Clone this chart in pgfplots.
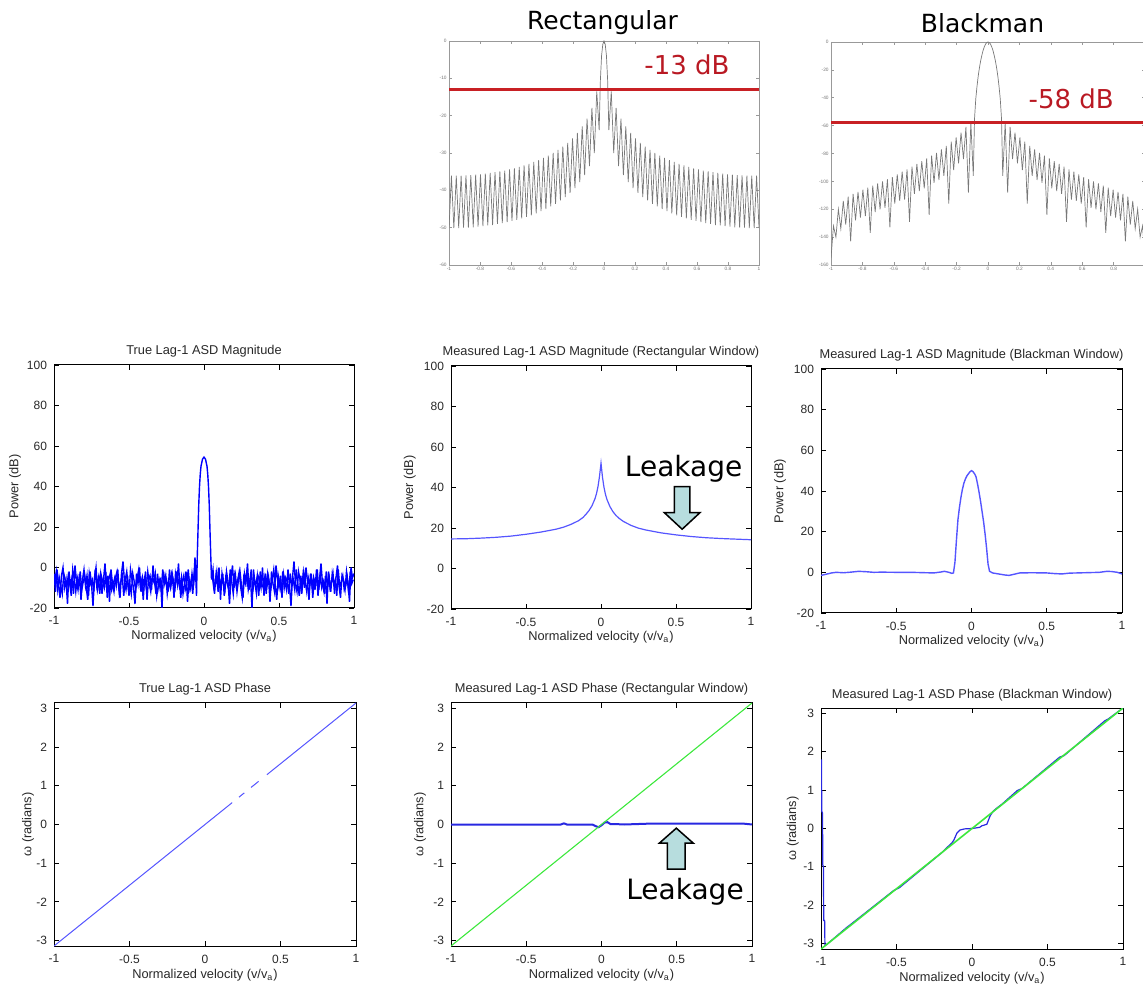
\documentclass[border=0pt]{standalone}
\usepackage{fontspec}
\setmainfont{Liberation Sans}
\newfontfamily\dejavu{DejaVu Sans}
\usepackage{pgfplots}
\pgfplotsset{compat=1.18}

\definecolor{txt}{RGB}{40,40,40}
\definecolor{mblue}{RGB}{0,0,255}
\definecolor{lblue}{RGB}{85,85,255}
\definecolor{dblue}{RGB}{40,40,225}
\definecolor{mgreen}{RGB}{60,232,60}
\definecolor{redline}{RGB}{200,32,36}
\definecolor{redtext}{RGB}{185,25,35}
\definecolor{arrowfill}{RGB}{183,221,222}
\definecolor{specgray}{RGB}{120,120,120}

\pgfplotsset{
  every axis title shift=0pt,
  mat/.style={
    scale only axis, anchor=south west,
    tick align=inside, tick pos=both,
    major tick length=2.3pt,
    axis line style={line width=0.5pt},
    tick style={black, line width=0.4pt},
    xmin=-1, xmax=1,
    xtick={-1,-0.5,0,0.5,1}, xticklabels={-1,-0.5,0,0.5,1},
    ticklabel style={font=\fontsize{6}{7}\selectfont, text=txt},
    xticklabel style={yshift=-0.8pt},
    title style={font=\fontsize{6.4}{7.5}\selectfont, text=txt, at={(axis description cs:0.5,1)}, anchor=base, yshift=5pt},
    xlabel={Normalized velocity (v/v\textsubscript{a})},
    xlabel style={font=\fontsize{6.4}{7.5}\selectfont, text=txt, at={(axis description cs:0.5,0)}, anchor=base, yshift=-16pt},
    ylabel style={font=\fontsize{6.4}{7.5}\selectfont, text=txt, anchor=center},
  },
  mag/.style={ymin=-20, ymax=100, ytick={-20,0,20,40,60,80,100}, yticklabels={-20,0,20,40,60,80,100}, ylabel={Power (dB)}},
  phase/.style={ymin=-3.1416, ymax=3.1416, ytick={-3,-2,-1,0,1,2,3}, yticklabels={-3,-2,-1,0,1,2,3}, ylabel={ω (radians)}},
  topax/.style={
    scale only axis, anchor=south west, tick align=inside, tick pos=both,
    major tick length=1.6pt,
    axis line style={draw=black!40, line width=0.35pt},
    tick style={draw=black!40, line width=0.3pt},
    xmin=-1, xmax=1,
    xtick={-1,-0.8,-0.6,-0.4,-0.2,0,0.2,0.4,0.6,0.8,1},
    ticklabel style={font=\fontsize{2.4}{2.8}\selectfont, text=black!55, inner sep=1pt},
    title style={font=\dejavu\fontsize{12.5}{14}\selectfont, text=black, at={(axis description cs:0.5,1)}, anchor=base},
  },
}

\begin{document}
\begin{tikzpicture}
\useasboundingbox (0pt,0pt) rectangle (571.5pt,495pt);

% ---------------- Rectangular window spectrum ----------------
\begin{axis}[topax, at={(224.5pt,362.5pt)}, width=155pt, height=112pt,
  xticklabels={-1,-0.8,-0.6,-0.4,-0.2,0,0.2,0.4,0.6,0.8,1},
  ymin=-60, ymax=0, ytick={-60,-50,-40,-30,-20,-10,0}, yticklabels={-60,-50,-40,-30,-20,-10,0},
  title={Rectangular}, title style={yshift=5.5pt, xshift=-0.75pt}]
\addplot[specgray, line width=0.35pt] coordinates {
(-1,-50.1) (-0.984375,-36.1) (-0.96875,-50.1) (-0.953125,-36.1) (-0.9375,-50.1) (-0.921875,-36.1) (-0.90625,-50.0) (-0.890625,-36.0) (-0.875,-50.0) (-0.859375,-35.9) (-0.84375,-49.9) (-0.828125,-35.8) (-0.8125,-49.7) (-0.796875,-35.7) (-0.78125,-49.6) (-0.765625,-35.5) (-0.75,-49.4) (-0.734375,-35.3) (-0.71875,-49.3) (-0.703125,-35.1) (-0.6875,-49.0) (-0.671875,-34.9) (-0.65625,-48.8) (-0.640625,-34.7) (-0.625,-48.5) (-0.609375,-34.4) (-0.59375,-48.2) (-0.578125,-34.1) (-0.5625,-47.9) (-0.546875,-33.7) (-0.53125,-47.5) (-0.515625,-33.3) (-0.5,-47.1) (-0.484375,-32.9) (-0.46875,-46.7) (-0.453125,-32.4) (-0.4375,-46.2) (-0.421875,-31.9) (-0.40625,-45.6) (-0.390625,-31.3) (-0.375,-45.0) (-0.359375,-30.7) (-0.34375,-44.3) (-0.328125,-30.0) (-0.3125,-43.6) (-0.296875,-29.2) (-0.28125,-42.7) (-0.265625,-28.3) (-0.25,-41.8) (-0.234375,-27.3) (-0.21875,-40.7) (-0.203125,-26.1) (-0.1875,-39.4) (-0.171875,-24.6) (-0.15625,-37.8) (-0.140625,-22.9) (-0.125,-35.9) (-0.109375,-20.8) (-0.09375,-33.5) (-0.078125,-17.9) (-0.0625,-30.0) (-0.046875,-13.5) (-0.03125,-23.9) (-0.0234,-10.5) (-0.015625,-3.9) (-0.0078,-0.9) (0,0)
(0.0078,-0.9) (0.015625,-3.9) (0.0234,-10.5) (0.03125,-23.9) (0.046875,-13.5) (0.0625,-30.0) (0.078125,-17.9) (0.09375,-33.5) (0.109375,-20.8) (0.125,-35.9) (0.140625,-22.9) (0.15625,-37.8) (0.171875,-24.6) (0.1875,-39.4) (0.203125,-26.1) (0.21875,-40.7) (0.234375,-27.3) (0.25,-41.8) (0.265625,-28.3) (0.28125,-42.7) (0.296875,-29.2) (0.3125,-43.6) (0.328125,-30.0) (0.34375,-44.3) (0.359375,-30.7) (0.375,-45.0) (0.390625,-31.3) (0.40625,-45.6) (0.421875,-31.9) (0.4375,-46.2) (0.453125,-32.4) (0.46875,-46.7) (0.484375,-32.9) (0.5,-47.1) (0.515625,-33.3) (0.53125,-47.5) (0.546875,-33.7) (0.5625,-47.9) (0.578125,-34.1) (0.59375,-48.2) (0.609375,-34.4) (0.625,-48.5) (0.640625,-34.7) (0.65625,-48.8) (0.671875,-34.9) (0.6875,-49.0) (0.703125,-35.1) (0.71875,-49.3) (0.734375,-35.3) (0.75,-49.4) (0.765625,-35.5) (0.78125,-49.6) (0.796875,-35.7) (0.8125,-49.7) (0.828125,-35.8) (0.84375,-49.9) (0.859375,-35.9) (0.875,-50.0) (0.890625,-36.0) (0.90625,-50.0) (0.921875,-36.1) (0.9375,-50.1) (0.953125,-36.1) (0.96875,-50.1) (0.984375,-36.1) (1,-50.1)
};
\addplot[redline, line width=1.5pt] coordinates {(-1,-13) (1,-13)};
\node[anchor=base, text=redtext, font=\dejavu\fontsize{13}{15}\selectfont] at (axis cs:0.535,-9.1) {-13 dB};
\end{axis}

% ---------------- Blackman window spectrum ----------------
\begin{axis}[topax, at={(415.5pt,362.5pt)}, width=157pt, height=111.5pt,
  xticklabels={-1,-0.8,-0.6,-0.4,-0.2,0,0.2,0.4,0.6,0.8,{}},
  ymin=-160, ymax=0, ytick={-160,-140,-120,-100,-80,-60,-40,-20,0}, yticklabels={-160,-140,-120,-100,-80,-60,-40,-20,0},
  title={Blackman}, title style={yshift=4.5pt, xshift=-2.75pt}]
\addplot[specgray, line width=0.35pt] coordinates {
(-1,-155) (-0.984375,-132) (-0.96875,-140) (-0.953125,-120) (-0.9375,-134) (-0.921875,-114) (-0.90625,-131) (-0.890625,-111) (-0.875,-143) (-0.859375,-109) (-0.84375,-128) (-0.828125,-107.5) (-0.8125,-126) (-0.796875,-106) (-0.78125,-125) (-0.765625,-104.5) (-0.75,-137) (-0.734375,-103) (-0.71875,-122) (-0.703125,-101.5) (-0.6875,-120) (-0.671875,-100) (-0.65625,-119) (-0.640625,-98.5) (-0.625,-133) (-0.609375,-97) (-0.59375,-116) (-0.578125,-95) (-0.5625,-114) (-0.546875,-93) (-0.53125,-113) (-0.515625,-91.5) (-0.5,-129) (-0.484375,-89.5) (-0.46875,-109) (-0.453125,-87.5) (-0.4375,-107) (-0.421875,-85.5) (-0.40625,-105) (-0.390625,-83.5) (-0.375,-124) (-0.359375,-81.5) (-0.34375,-101) (-0.328125,-79.5) (-0.3125,-99) (-0.296875,-77) (-0.28125,-96) (-0.265625,-74.5) (-0.25,-116) (-0.234375,-71.5) (-0.21875,-92) (-0.203125,-68.5) (-0.1875,-87) (-0.171875,-65) (-0.15625,-84) (-0.140625,-61) (-0.125,-108) (-0.109375,-58) (-0.09375,-96)
(-0.0859,-55) (-0.0781,-41) (-0.0703,-32) (-0.0625,-24.5) (-0.0547,-18.5) (-0.0469,-13.5) (-0.0391,-9.5) (-0.0313,-6) (-0.0234,-3.4) (-0.0156,-1.5) (-0.0078,-0.4) (0,0)
(0.0078,-0.4) (0.0156,-1.5) (0.0234,-3.4) (0.0313,-6) (0.0391,-9.5) (0.0469,-13.5) (0.0547,-18.5) (0.0625,-24.5) (0.0703,-32) (0.0781,-41) (0.0859,-55)
(0.09375,-96) (0.109375,-58) (0.125,-108) (0.140625,-61) (0.15625,-84) (0.171875,-65) (0.1875,-87) (0.203125,-68.5) (0.21875,-92) (0.234375,-71.5) (0.25,-116) (0.265625,-74.5) (0.28125,-96) (0.296875,-77) (0.3125,-99) (0.328125,-79.5) (0.34375,-101) (0.359375,-81.5) (0.375,-124) (0.390625,-83.5) (0.40625,-105) (0.421875,-85.5) (0.4375,-107) (0.453125,-87.5) (0.46875,-109) (0.484375,-89.5) (0.5,-129) (0.515625,-91.5) (0.53125,-113) (0.546875,-93) (0.5625,-114) (0.578125,-95) (0.59375,-116) (0.609375,-97) (0.625,-133) (0.640625,-98.5) (0.65625,-119) (0.671875,-100) (0.6875,-120) (0.703125,-101.5) (0.71875,-122) (0.734375,-103) (0.75,-137) (0.765625,-104.5) (0.78125,-125) (0.796875,-106) (0.8125,-126) (0.828125,-107.5) (0.84375,-128) (0.859375,-109) (0.875,-143) (0.890625,-111) (0.90625,-131) (0.921875,-114) (0.9375,-134) (0.953125,-120) (0.96875,-140) (0.984375,-132) (1,-155)
};
\addplot[redline, line width=1.5pt] coordinates {(-1,-58) (1,-58)};
\node[anchor=base, text=redtext, font=\dejavu\fontsize{13}{15}\selectfont] at (axis cs:0.53,-47.5) {-58 dB};
\end{axis}

% ---------------- Middle left ----------------
\begin{axis}[mat, mag, at={(27pt,191pt)}, width=150pt, height=121.5pt,
  title={True Lag-1 ASD Magnitude}, ylabel style={at={(axis description cs:-0.13,0.5)}}]
\addplot[mblue, line width=0.7pt] coordinates {
(-0.995,-7) (-0.985,-2) (-0.975,-11) (-0.965,-5) (-0.955,-9) (-0.945,-13) (-0.935,-3) (-0.925,-6) (-0.915,-10) (-0.905,-4)
(-0.895,-8) (-0.885,-14) (-0.875,-1) (-0.865,-6) (-0.855,-12) (-0.845,-5) (-0.835,-9) (-0.825,-2) (-0.815,-11) (-0.805,-7)
(-0.795,-4) (-0.785,-10) (-0.775,-16) (-0.765,-3) (-0.755,-8) (-0.745,-6) (-0.735,-12) (-0.725,-1) (-0.715,-9) (-0.705,-5)
(-0.695,-13) (-0.685,-4) (-0.675,-7) (-0.665,-10) (-0.655,-2) (-0.645,-15) (-0.635,-6) (-0.625,-3) (-0.615,-11) (-0.605,-8)
(-0.595,-5) (-0.585,-9) (-0.575,-1) (-0.565,-12) (-0.555,-7) (-0.545,-4) (-0.535,-14) (-0.525,-6) (-0.515,-2) (-0.505,-10)
(-0.495,-8) (-0.485,-13) (-0.475,-3) (-0.465,-7) (-0.455,-11) (-0.445,-5) (-0.435,-1) (-0.425,-9) (-0.415,-6) (-0.405,-16)
(-0.395,-4) (-0.385,-10) (-0.375,-2) (-0.365,-8) (-0.355,-12) (-0.345,-5) (-0.335,-7) (-0.325,-3) (-0.315,-14) (-0.305,-9)
(-0.295,-6) (-0.285,-11) (-0.275,-1) (-0.265,-8) (-0.255,-4) (-0.245,-13) (-0.235,-7) (-0.225,-10) (-0.215,-3) (-0.205,-6)
(-0.195,-12) (-0.185,-2) (-0.175,-9) (-0.165,-5) (-0.155,-15) (-0.145,-7) (-0.135,-4) (-0.125,-11) (-0.115,-8) (-0.105,-1)
(-0.095,-10) (-0.085,-6) (-0.075,-13) (-0.065,-3) (-0.055,-7)
};
\addplot[mblue, line width=0.7pt] coordinates {
(0.055,-4) (0.065,-10) (0.075,-7) (0.085,-2) (0.095,-12) (0.105,-6) (0.115,-9) (0.125,-3) (0.135,-14) (0.145,-5)
(0.155,-8) (0.165,-11) (0.175,-1) (0.185,-7) (0.195,-13) (0.205,-4) (0.215,-9) (0.225,-6) (0.235,-2) (0.245,-10)
(0.255,-15) (0.265,-5) (0.275,-8) (0.285,-3) (0.295,-11) (0.305,-7) (0.315,-1) (0.325,-12) (0.335,-6) (0.345,-9)
(0.355,-4) (0.365,-14) (0.375,-2) (0.385,-8) (0.395,-10) (0.405,-5) (0.415,-13) (0.425,-3) (0.435,-7) (0.445,-11)
(0.455,-6) (0.465,-1) (0.475,-9) (0.485,-16) (0.495,-4) (0.505,-8) (0.515,-12) (0.525,-2) (0.535,-10) (0.545,-5)
(0.555,-7) (0.565,-13) (0.575,-3) (0.585,-9) (0.595,-6) (0.605,-11) (0.615,-1) (0.625,-8) (0.635,-14) (0.645,-4)
(0.655,-10) (0.665,-2) (0.675,-7) (0.685,-12) (0.695,-5) (0.705,-9) (0.715,-3) (0.725,-15) (0.735,-6) (0.745,-8)
(0.755,-1) (0.765,-11) (0.775,-4) (0.785,-10) (0.795,-7) (0.805,-13) (0.815,-2) (0.825,-9) (0.835,-5) (0.845,-12)
(0.855,-3) (0.865,-8) (0.875,-6) (0.885,-14) (0.895,-1) (0.905,-10) (0.915,-7) (0.925,-4) (0.935,-11) (0.945,-9)
(0.955,-5) (0.965,-13) (0.975,-2) (0.985,-8) (0.995,-6)
};
\addplot[mblue, line width=0.7pt] coordinates {
(-1.00,-3) (-0.99,-12) (-0.98,-1) (-0.97,-8) (-0.96,-15) (-0.95,-4) (-0.94,0) (-0.93,-10) (-0.92,-6) (-0.91,-18)
(-0.90,-2) (-0.89,-9) (-0.88,-5) (-0.87,-13) (-0.86,1) (-0.85,-7) (-0.84,-11) (-0.83,-3) (-0.82,-16) (-0.81,-6)
(-0.80,-1) (-0.79,-9) (-0.78,-4) (-0.77,-14) (-0.76,-2) (-0.75,-8) (-0.74,-19) (-0.73,-5) (-0.72,0) (-0.71,-11)
(-0.70,-7) (-0.69,-3) (-0.68,-13) (-0.67,-6) (-0.66,2) (-0.65,-10) (-0.64,-4) (-0.63,-17) (-0.62,-1) (-0.61,-8)
(-0.60,-12) (-0.59,-5) (-0.58,-2) (-0.57,-9) (-0.56,-15) (-0.55,-3) (-0.54,3) (-0.53,-7) (-0.52,-11) (-0.51,-4)
(-0.50,-14) (-0.49,-1) (-0.48,-6) (-0.47,-10) (-0.46,-18) (-0.45,-3) (-0.44,-8) (-0.43,0) (-0.42,-12) (-0.41,-5)
(-0.40,-9) (-0.39,-2) (-0.38,-16) (-0.37,-6) (-0.36,-4) (-0.35,-11) (-0.34,1) (-0.33,-7) (-0.32,-13) (-0.31,-3)
(-0.30,-10) (-0.29,-5) (-0.28,-20) (-0.27,-2) (-0.26,-8) (-0.25,-6) (-0.24,-12) (-0.23,-1) (-0.22,-9) (-0.21,-4)
(-0.20,-15) (-0.19,-3) (-0.18,-7) (-0.17,2) (-0.16,-11) (-0.15,-5) (-0.14,-13) (-0.13,-8) (-0.12,-2) (-0.11,-17)
(-0.10,-6) (-0.09,-10) (-0.08,-3) (-0.07,-9) (-0.06,5) (-0.05,-14)
(-0.045,5) (-0.04,18) (-0.035,31) (-0.03,40) (-0.025,46) (-0.02,50) (-0.01,53.5) (0,54.5) (0.01,53.5) (0.02,50) (0.025,46) (0.03,40) (0.035,31) (0.04,18) (0.045,6)
(0.05,-6) (0.06,-1) (0.07,-13) (0.08,-4) (0.09,-9) (0.10,0) (0.11,-16) (0.12,-3) (0.13,-8) (0.14,-11)
(0.15,-2) (0.16,-7) (0.17,-18) (0.18,-5) (0.19,1) (0.20,-10) (0.21,-4) (0.22,-12) (0.23,-6) (0.24,-2)
(0.25,-9) (0.26,-15) (0.27,-3) (0.28,-7) (0.29,2) (0.30,-11) (0.31,-5) (0.32,-20) (0.33,-1) (0.34,-8)
(0.35,-13) (0.36,-4) (0.37,-6) (0.38,-10) (0.39,0) (0.40,-14) (0.41,-3) (0.42,-9) (0.43,-5) (0.44,-17)
(0.45,-2) (0.46,-8) (0.47,-12) (0.48,1) (0.49,-6) (0.50,-10) (0.51,-4) (0.52,-15) (0.53,-3) (0.54,-7)
(0.55,-11) (0.56,-1) (0.57,-9) (0.58,-19) (0.59,-5) (0.60,3) (0.61,-8) (0.62,-12) (0.63,-2) (0.64,-6)
(0.65,-13) (0.66,-4) (0.67,-10) (0.68,0) (0.69,-7) (0.70,-16) (0.71,-3) (0.72,-9) (0.73,-5) (0.74,-11)
(0.75,-1) (0.76,-14) (0.77,-6) (0.78,2) (0.79,-8) (0.80,-12) (0.81,-4) (0.82,-18) (0.83,-2) (0.84,-10)
(0.85,-7) (0.86,-3) (0.87,-13) (0.88,-5) (0.89,1) (0.90,-9) (0.91,-15) (0.92,-4) (0.93,-6) (0.94,-11)
(0.95,-2) (0.96,-8) (0.97,-17) (0.98,0) (0.99,-5) (1.00,-3)
};
\end{axis}

% ---------------- Middle centre ----------------
\begin{axis}[mat, mag, at={(225.5pt,190.5pt)}, width=150pt, height=121.5pt,
  title={Measured Lag-1 ASD Magnitude (Rectangular Window)}, ylabel style={at={(axis description cs:-0.137,0.5)}}]
\addplot[lblue, line width=0.6pt] coordinates {
(-1,14.6) (-0.9,14.7) (-0.8,15.0) (-0.7,15.4) (-0.6,16.0) (-0.5,16.9) (-0.4,18.0) (-0.3,19.4) (-0.25,20.4) (-0.2,21.8) (-0.15,23.6) (-0.12,25.2) (-0.1,26.8) (-0.08,28.6) (-0.06,31) (-0.04,34.5) (-0.03,37) (-0.02,40.5) (-0.01,45.5) (0,52) (0.01,45) (0.02,40) (0.03,36.5) (0.04,34) (0.06,30.5) (0.08,28) (0.1,26.2) (0.12,24.8) (0.15,23.2) (0.2,21.3) (0.25,19.9) (0.3,19) (0.4,17.6) (0.5,16.6) (0.6,15.8) (0.7,15.2) (0.8,14.8) (0.9,14.5) (1,14.2)
};
\draw[fill=arrowfill, draw=black, line width=0.75pt, line join=miter]
  (axis cs:0.489,40.4) -- (axis cs:0.593,40.4) -- (axis cs:0.593,27.6) -- (axis cs:0.66,27.6)
  -- (axis cs:0.541,19.4) -- (axis cs:0.422,27.6) -- (axis cs:0.489,27.6) -- cycle;
\node[anchor=base, font=\dejavu\fontsize{14}{16}\selectfont] at (axis cs:0.551,45.3) {Leakage};
\end{axis}

% ---------------- Middle right ----------------
\begin{axis}[mat, mag, at={(410.5pt,188.5pt)}, width=150.5pt, height=122pt,
  title={Measured Lag-1 ASD Magnitude (Blackman Window)}, ylabel style={at={(axis description cs:-0.136,0.5)}}]
\addplot[lblue, line width=0.7pt] coordinates {
(-1,-1.5) (-0.97,-1) (-0.93,-0.3) (-0.9,0) (-0.85,-0.2) (-0.8,0.1) (-0.75,0.5) (-0.7,0.3) (-0.65,0) (-0.6,0.1) (-0.5,0) (-0.4,0) (-0.3,-0.2) (-0.25,-0.3) (-0.2,0.2) (-0.18,0.5) (-0.15,0) (-0.13,-0.5)
(-0.12,-0.3) (-0.11,5) (-0.1,16) (-0.09,26) (-0.08,32) (-0.07,37) (-0.06,41) (-0.05,44) (-0.04,46) (-0.03,47.5) (-0.02,48.5) (-0.01,49.5) (0,50) (0.01,49.5) (0.02,48.5) (0.03,47) (0.04,43.5) (0.05,39.5) (0.06,35) (0.07,30) (0.08,25) (0.09,19) (0.1,12) (0.11,4) (0.12,0.5)
(0.14,-0.3) (0.18,-0.8) (0.22,-1.3) (0.25,-1.5) (0.28,-1) (0.32,-0.3) (0.4,-0.2) (0.5,-0.3) (0.55,-0.6) (0.6,-0.8) (0.65,-0.4) (0.7,-0.3) (0.8,-0.1) (0.85,0) (0.9,0.5) (0.93,0.4) (0.97,0) (1,-0.8)
};
\end{axis}

% ---------------- Bottom left ----------------
\begin{axis}[mat, phase, at={(27pt,22pt)}, width=151pt, height=121.5pt,
  title={True Lag-1 ASD Phase}, ylabel style={at={(axis description cs:-0.086,0.5)}}, unbounded coords=jump]
\addplot[lblue, line width=0.5pt] coordinates {
(-1,-3.1416) (-0.5,-1.5708) (0,0) (0.18,0.5655) (0.18,nan) (0.225,0.7069) (0.26,0.8168) (0.26,nan) (0.305,0.9582) (0.355,1.1153) (0.355,nan) (0.41,1.2881) (0.7,2.1991) (1,3.1416)
};
\end{axis}

% ---------------- Bottom centre ----------------
\begin{axis}[mat, phase, at={(225.5pt,22pt)}, width=150.5pt, height=121.5pt,
  title={Measured Lag-1 ASD Phase (Rectangular Window)}, ylabel style={at={(axis description cs:-0.103,0.5)}}]
\addplot[dblue, line width=1pt] coordinates {
(-1,0) (-0.6,0) (-0.27,0) (-0.25,0.03) (-0.23,0) (-0.06,0) (-0.04,-0.04) (-0.02,-0.07) (0,-0.02) (0.02,0.05) (0.04,0.06) (0.06,0.01) (0.1,0.01) (0.15,0) (0.3,0.02) (0.5,0.02) (0.8,0.02) (0.95,0.02) (1,0)
};
\addplot[mgreen, line width=0.55pt] coordinates {(-1,-3.1416) (1,3.1416)};
\draw[fill=arrowfill, draw=black, line width=0.75pt, line join=miter]
  (axis cs:0.437,-1.156) -- (axis cs:0.555,-1.156) -- (axis cs:0.555,-0.483) -- (axis cs:0.610,-0.483)
  -- (axis cs:0.497,-0.095) -- (axis cs:0.384,-0.483) -- (axis cs:0.437,-0.483) -- cycle;
\node[anchor=base, font=\dejavu\fontsize{14}{16}\selectfont] at (axis cs:0.555,-1.95) {Leakage};
\end{axis}

% ---------------- Bottom right ----------------
\begin{axis}[mat, phase, at={(410.5pt,20.5pt)}, width=151pt, height=120.5pt,
  title={Measured Lag-1 ASD Phase (Blackman Window)}, ylabel style={at={(axis description cs:-0.093,0.5)}}]
\addplot[dblue, line width=0.6pt] coordinates {
(-0.997,1.8) (-0.995,0.45) (-0.99,0.4) (-0.988,-0.95) (-0.984,-1.0) (-0.982,-2.4) (-0.976,-2.4) (-0.974,-3.05) (-0.96,-3.016)
(-0.83,-2.58) (-0.8,-2.49) (-0.52,-1.62) (-0.48,-1.54) (-0.2,-0.628) (-0.167,-0.5) (-0.134,-0.38) (-0.12,-0.3) (-0.1,-0.12) (-0.08,-0.04) (-0.05,-0.01) (0,0) (0.05,0.03) (0.065,0.07) (0.098,0.11) (0.12,0.33) (0.14,0.45) (0.16,0.52) (0.2,0.64) (0.3,0.99) (0.33,1.04) (0.58,1.86) (0.61,1.9) (0.8,2.54) (0.88,2.81) (0.9,2.85) (1,3.1416)
};
\addplot[mgreen, line width=0.8pt] coordinates {(-1,-3.1416) (1,3.1416)};
\end{axis}
\end{tikzpicture}
\end{document}
